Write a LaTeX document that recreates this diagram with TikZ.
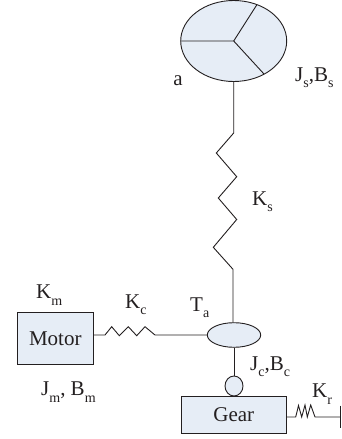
\documentclass[tikz,border=0pt]{standalone}
\usepackage{fontspec}
\setmainfont{Liberation Serif}
\usepackage{tikz}
\usetikzlibrary{positioning,shapes.geometric}
\definecolor{tinta}{HTML}{231F20}
\definecolor{azulclaro}{HTML}{E6EDF6}
\tikzset{
  massa/.style={ellipse,draw=tinta,fill=azulclaro,line width=0.9pt,inner sep=0pt},
  bloco/.style={rectangle,draw=tinta,fill=azulclaro,line width=0.9pt,inner sep=0pt,font=\fontsize{21}{21}\selectfont,text=tinta},
  rotulo/.style={font=\fontsize{21}{21}\selectfont,text=tinta,inner sep=0pt},
  linha/.style={draw=tinta,line width=0.9pt}
}
\newcommand{\sub}[2]{#1\raisebox{-0.3em}{\fontsize{14}{14}\selectfont #2}}
\begin{document}
\begin{tikzpicture}[x=1pt,y=-1pt]
\useasboundingbox (0,0) rectangle (341,439);
% massas
\node[massa,minimum width=106pt,minimum height=81pt] (rotor) at (233.7,41) {};
\node[massa,minimum width=53.4pt,minimum height=24.6pt] (cubo) at (234,335) {};
\node[massa,minimum width=18pt,minimum height=20pt] (roda) at (234,386) {};
\node[bloco,minimum width=76pt,minimum height=52pt] (motor) at (55.3,338.3) {Motor};
\node[bloco,minimum width=105.7pt,minimum height=37pt] (gear) at (233.8,414.5) {Gear};
\coordinate (centro) at (233.7,41);
\coordinate (parede) at (340.3,417);
\coordinate (paredetopo) at (340.3,405.7);
\coordinate (paredebase) at (340.3,428);
% pas do rotor
\draw[linha] (rotor.west) -- (centro) -- (256.7,5);
\draw[linha] (centro) -- (264,74);
% molas
\draw[linha] (rotor.south) -- (233.7,133) -- (216.3,153) -- (236.7,176.7) -- (218.3,198) -- (236.7,219.5) -- (213.3,247.3) -- (233,269.3) -- (233,322.7);
\draw[linha] (motor.east |- 0,335) -- (105,335) -- (111.7,326.7) -- (119.3,335.7) -- (128.3,326.7) -- (136.7,335.7) -- (145,326.7) -- (155,335) -- (cubo.west);
\draw[linha] (cubo.south) -- (roda.north);
\draw[linha] (gear.east |- parede) -- (295.7,417) -- (298.5,405.5) -- (301.7,417) -- (305,405) -- (307.3,417) -- (310.7,405) -- (315,417) -- (parede);
\draw[linha] (paredetopo) -- (paredebase);
% rotulos
\node[rotulo] (a) at (178,81) {a};
\node[rotulo,anchor=west] (js) at (295,78) {\sub{J}{s},\sub{B}{s}};
\node[rotulo,anchor=west] (ks) at (252,202) {\sub{K}{s}};
\node[rotulo,anchor=west] (km) at (36,295) {\sub{K}{m}};
\node[rotulo,anchor=west] (kc) at (125,305) {\sub{K}{c}};
\node[rotulo,anchor=west] (ta) at (190,308) {\sub{T}{a}};
\node[rotulo,anchor=west] (jm) at (41,392) {\sub{J}{m}, \sub{B}{m}};
\node[rotulo,anchor=west] (jc) at (250,367) {\sub{J}{c},\sub{B}{c}};
\node[rotulo,anchor=west] (kr) at (312,394) {\sub{K}{r}};
\end{tikzpicture}
\end{document}
